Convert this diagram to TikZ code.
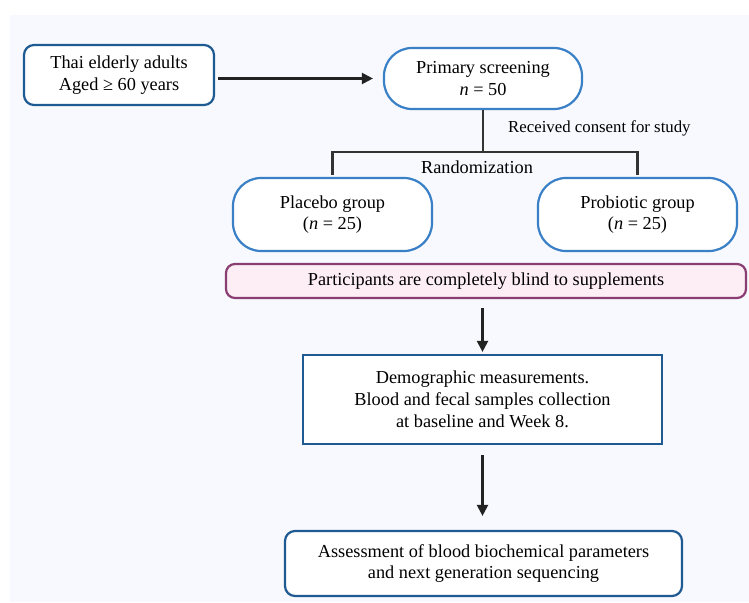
\documentclass[tikz,border=0pt]{standalone}
\usepackage{fontspec}
\setmainfont{Liberation Serif}
\usetikzlibrary{arrows.meta,positioning}
\definecolor{panelbg}{HTML}{F7F9FE}
\definecolor{darkblue}{HTML}{1F5A92}
\definecolor{midblue}{HTML}{3A80C6}
\definecolor{plum}{HTML}{8A3D70}
\definecolor{blush}{HTML}{FDEEF5}
\definecolor{arrowgray}{HTML}{222222}

\begin{document}
\begin{tikzpicture}[x=1pt, y=-1pt,
  box/.style={rectangle, draw=darkblue, line width=2.2pt, fill=white, align=center, font=\fontsize{18.3}{21.5}\selectfont, inner sep=0pt},
  roundbox/.style={box, rounded corners=10pt},
  pill/.style={box, draw=midblue, rounded corners=28pt},
  flow/.style={-{Triangle[length=11pt,width=11pt]}, line width=2.2pt, draw=arrowgray},
  branch/.style={line width=2.4pt, draw=black!80},
  note/.style={font=\fontsize{16.8}{20}\selectfont, inner sep=0pt},
]
% Panel behind everything
\useasboundingbox (0,0) rectangle (749,602);
\fill[panelbg] (10,15) rectangle (749,602);

% Main boxes
\node[roundbox, minimum width=190pt, minimum height=60pt] (thai) at (119,75) {Thai elderly adults\\Aged ≥ 60 years};
\node[pill, minimum width=198pt, minimum height=61pt] (screen) at (483,78.5) {Primary screening\\\emph{n} = 50};
\node[pill, minimum width=199pt, minimum height=73pt] (placebo) at (332.5,214.5) {Placebo group\\(\emph{n} = 25)};
\node[pill, minimum width=199pt, minimum height=73pt] (probiotic) at (637.5,214.5) {Probiotic group\\(\emph{n} = 25)};
\node[roundbox, draw=plum, fill=blush, rounded corners=9pt, minimum width=520pt, minimum height=34pt] (blind) at (486,281) {Participants are completely blind to supplements};
\node[box, minimum width=359pt, minimum height=89pt, font=\fontsize{18.3}{22}\selectfont] (demo) at (482.5,399.5) {Demographic measurements.\\Blood and fecal samples collection\\at baseline and Week 8.};
\node[roundbox, minimum width=397pt, minimum height=65pt] (assess) at (483.5,563.5) {Assessment of blood biochemical parameters\\and next generation sequencing};

% Split into the two groups
\draw[branch] (screen.south) -- ++(0,42) coordinate (split);
\draw[branch, shorten <=2pt, shorten >=2pt] (placebo.north) |- (split) -| (probiotic.north);

% Labels on the split
\node[note, anchor=west] (consent) at (508,128) {Received consent for study};
\node[note, font=\fontsize{18.3}{21.5}\selectfont] (random) at (477,167) {Randomization};

% Flow arrows
\draw[flow, shorten <=3pt, shorten >=10pt] (thai.east |- screen.west) -- (screen.west);
\draw[flow, shorten <=9pt, shorten >=2pt] (blind.south -| demo.north) -- (demo.north);
\draw[flow, shorten <=10pt, shorten >=14pt] (demo.south) -- (demo.south |- assess.north);
\end{tikzpicture}
\end{document}
